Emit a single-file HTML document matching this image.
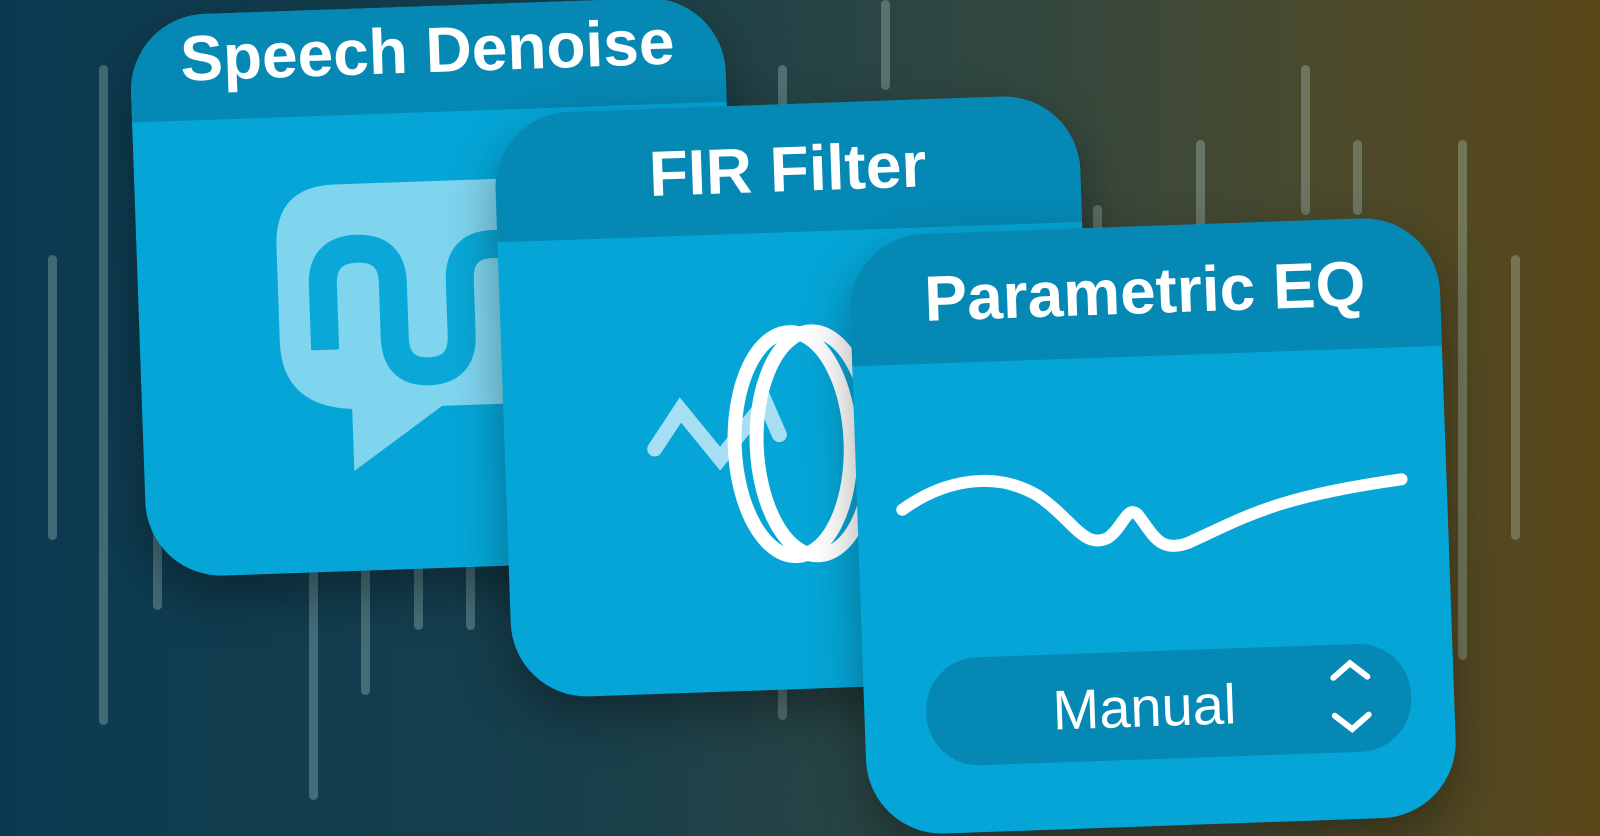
<!DOCTYPE html>
<html><head><meta charset="utf-8"><style>
html,body{margin:0;padding:0}
body{width:1600px;height:800px;overflow:hidden;position:relative;
background:linear-gradient(90deg,#0b3a50 0%,#173f4c 35%,#34483f 65%,#4d4a2a 85%,#5a4718 100%);font-family:"Liberation Sans",sans-serif}
.ln{position:absolute;width:9px;border-radius:5px;background:rgba(190,220,215,0.3)}
.card{position:absolute;border-radius:76px;background:#05a6d7;overflow:hidden;transform:rotate(-2deg);box-shadow:0 20px 50px rgba(0,0,0,0.35)}
.hd{position:absolute;left:0;top:0;right:0;height:112px;background:#0588b4;color:#fff;font-weight:bold;font-size:64px;text-align:center;line-height:100px}
svg{position:absolute;left:0;top:0}
</style></head><body>
<div class="ln" style="left:99px;top:65px;height:660px"></div>
<div class="ln" style="left:48px;top:255px;height:285px"></div>
<div class="ln" style="left:153px;top:470px;height:140px"></div>
<div class="ln" style="left:309px;top:560px;height:240px"></div>
<div class="ln" style="left:361px;top:540px;height:155px"></div>
<div class="ln" style="left:414px;top:560px;height:70px"></div>
<div class="ln" style="left:466px;top:560px;height:70px"></div>
<div class="ln" style="left:778px;top:65px;height:655px"></div>
<div class="ln" style="left:881px;top:0px;height:90px"></div>
<div class="ln" style="left:1093px;top:205px;height:30px"></div>
<div class="ln" style="left:1196px;top:140px;height:110px"></div>
<div class="ln" style="left:1301px;top:65px;height:150px"></div>
<div class="ln" style="left:1353px;top:140px;height:75px"></div>
<div class="ln" style="left:1458px;top:140px;height:520px"></div>
<div class="ln" style="left:1511px;top:255px;height:285px"></div>

<div class="card" style="left:138px;top:6px;width:595px;height:562px">
<div class="hd" style="line-height:88px;height:106px">Speech Denoise</div>
<svg width="595" height="562">
<path d="M200 175 H400 Q440 175 440 215 V360 Q440 400 400 400 H300 L210 462 V400 Q140 395 140 330 V235 Q140 175 200 175Z" fill="#7fd4ee"/>
<path d="M185 340 V275 Q185 240 220 240 Q255 240 255 275 V330 Q255 365 288 365 Q322 365 322 330 V275 Q322 240 356 240 Q390 240 390 275 V330 Q390 365 420 365" fill="none" stroke="#0aa8d8" stroke-width="28"/>
</svg>
</div>

<div class="card" style="left:503px;top:104px;width:585px;height:585px">
<div class="hd" style="height:128px;line-height:130px">FIR Filter</div>
<svg width="585" height="585">
<polyline points="150,340 177,302 215,352 262,297 275,330" fill="none" stroke="#a6dff3" stroke-width="15" stroke-linecap="round"/>
<ellipse cx="310" cy="340" rx="58" ry="112" fill="none" stroke="#fff" stroke-width="14"/>
<ellipse cx="288" cy="340" rx="58" ry="112" fill="none" stroke="#fff" stroke-width="14"/>
</svg>
</div>

<div class="card" style="left:858px;top:226px;width:590px;height:600px">
<div class="hd" style="height:130px;line-height:130px">Parametric EQ</div>
<svg width="590" height="600">
<path d="M45 275 C90 245 140 240 180 265 C215 290 225 322 250 310 C265 300 270 278 280 288 C295 308 300 328 330 318 C390 293 420 275 545 262" fill="none" stroke="#fff" stroke-width="12" stroke-linecap="round"/>
<rect x="62" y="425" width="485" height="108" rx="52" fill="#0588b4"/>
<text x="280" y="500" fill="#fff" font-family="Liberation Sans,sans-serif" font-size="56" text-anchor="middle">Manual</text>
<polyline points="470,458 487,444 504,458" fill="none" stroke="#fff" stroke-width="6" stroke-linecap="round"/>
<polyline points="470,496 487,510 504,496" fill="none" stroke="#fff" stroke-width="6" stroke-linecap="round"/>
</svg>
</div>
</body></html>
